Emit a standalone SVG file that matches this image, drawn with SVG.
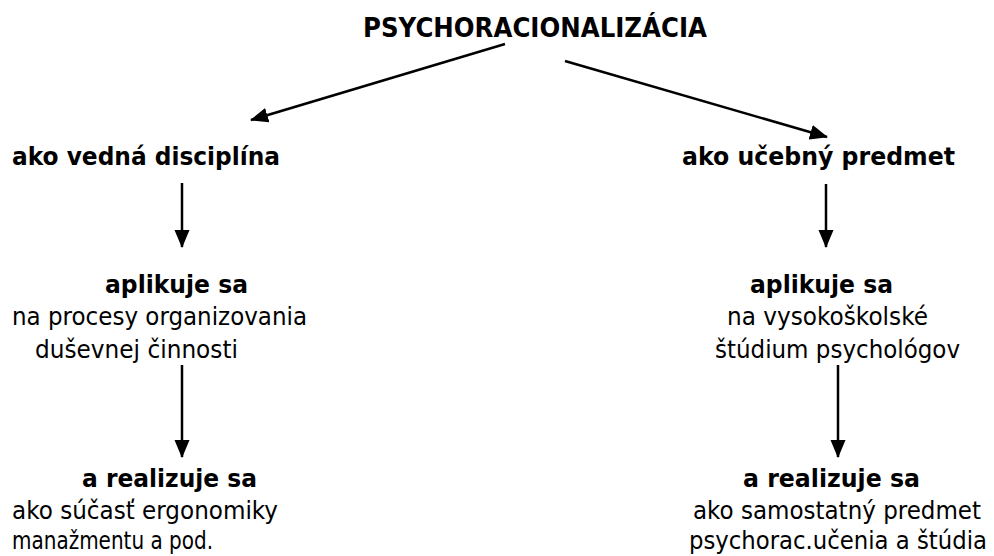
<svg xmlns="http://www.w3.org/2000/svg" width="994" height="556" viewBox="0 0 994 556">
<style>
text{font-family:"DejaVu Sans","Liberation Sans",sans-serif;font-size:25px;fill:#000}
.b{font-weight:bold}
.t{font-size:26px}
.c{stroke:#000;stroke-width:2.5;fill:none;marker-end:url(#ah)}
</style>
<defs>
<marker id="ah" markerUnits="userSpaceOnUse" markerWidth="18" markerHeight="16" refX="17" refY="7.5" orient="auto" viewBox="0 0 18 16">
<path d="M0,0 L18,7.5 L0,15 Z" fill="#000"/>
</marker>
</defs>
<rect width="994" height="556" fill="#fff"/>
<g id="connectors">
<line class="c" x1="505" y1="44" x2="251" y2="120"/>
<line class="c" x1="565" y1="61" x2="827" y2="137"/>
<line class="c" x1="182" y1="183" x2="182" y2="247"/>
<line class="c" x1="826" y1="184" x2="826" y2="247"/>
<line class="c" x1="182" y1="365" x2="182" y2="457"/>
<line class="c" x1="838" y1="365" x2="838" y2="457"/>
</g>
<g id="title"><text class="b t" x="363" y="37" textLength="344" lengthAdjust="spacingAndGlyphs">PSYCHORACIONALIZÁCIA</text></g>
<g id="left-discipline"><text class="b" x="12" y="165" textLength="268" lengthAdjust="spacingAndGlyphs">ako vedná disciplína</text></g>
<g id="right-subject"><text class="b" x="682" y="165" textLength="273" lengthAdjust="spacingAndGlyphs">ako učebný predmet</text></g>
<g id="left-applied">
<text class="b" x="105" y="293" textLength="143" lengthAdjust="spacingAndGlyphs">aplikuje sa</text>
<text x="12" y="325" textLength="295" lengthAdjust="spacingAndGlyphs">na procesy organizovania</text>
<text x="35" y="358" textLength="203" lengthAdjust="spacingAndGlyphs">duševnej činnosti</text>
</g>
<g id="right-applied">
<text class="b" x="750" y="293" textLength="143" lengthAdjust="spacingAndGlyphs">aplikuje sa</text>
<text x="727" y="325" textLength="201" lengthAdjust="spacingAndGlyphs">na vysokoškolské</text>
<text x="715" y="358" textLength="245" lengthAdjust="spacingAndGlyphs">štúdium psychológov</text>
</g>
<g id="left-realized">
<text class="b" x="82" y="487" textLength="175" lengthAdjust="spacingAndGlyphs">a realizuje sa</text>
<text x="12" y="519" textLength="266" lengthAdjust="spacingAndGlyphs">ako súčasť ergonomiky</text>
<text x="12" y="549" textLength="201" lengthAdjust="spacingAndGlyphs">manažmentu a pod.</text>
</g>
<g id="right-realized">
<text class="b" x="743" y="487" textLength="177" lengthAdjust="spacingAndGlyphs">a realizuje sa</text>
<text transform="translate(693,519) scale(0.8,1)" x="0" y="0" textLength="360" lengthAdjust="spacingAndGlyphs">ako samostatný predmet</text>
<text transform="translate(689,549) scale(0.8,1)" x="0" y="0" textLength="372.5" lengthAdjust="spacingAndGlyphs">psychorac.učenia a štúdia</text>
</g>
</svg>
